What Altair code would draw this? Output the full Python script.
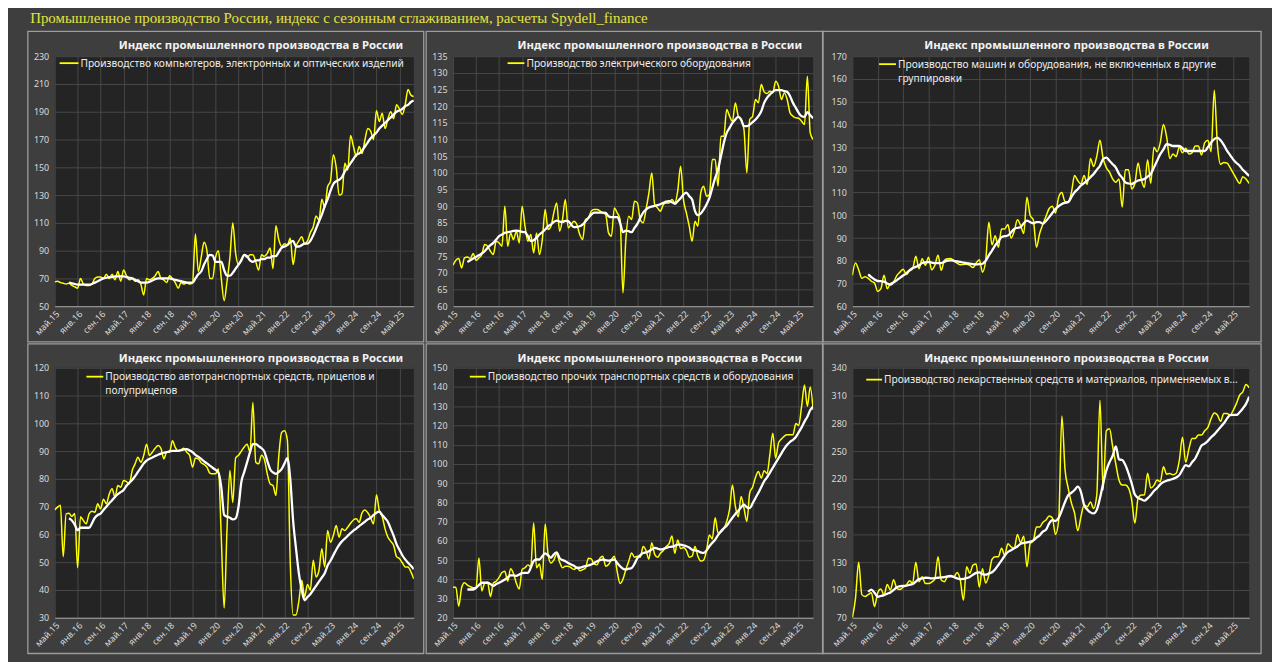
import altair as alt
import pandas as pd

MONTH_NAMES = ["янв", "фев", "мар", "апр", "май", "июн", "июл", "авг", "сен", "окт", "ноя", "дек"]
N = 126
MONTHS = [f"{MONTH_NAMES[(4 + k) % 12]}.{15 + (4 + k) // 12}" for k in range(N)]
TICKS = MONTHS[::8]

MAIN_TITLE = "Промышленное производство России, индекс с сезонным сглаживанием, расчеты Spydell_finance"
PANEL_TITLE = "Индекс промышленного производства в России"

LEGEND_1 = "Производство компьютеров, электронных и оптических изделий"
LEGEND_2 = "Производство электрического оборудования"
LEGEND_3 = "Производство машин и оборудования, не включенных в другие\nгруппировки"
LEGEND_4 = "Производство автотранспортных средств, прицепов и\nполуприцепов"
LEGEND_5 = "Производство прочих транспортных средств и оборудования"
LEGEND_6 = "Производство лекарственных средств и материалов, применяемых в..."

NA5 = [None] * 5

P1_RAW = [67.5, 68, 67, 66.5, 66, 66.5, 65, 64,
          63, 70, 66, 65, 65, 66, 70, 71,
          71, 70, 73, 70, 73, 69, 75, 68,
          76, 72, 69, 70, 68, 69, 66, 58,
          70, 69, 70, 72, 75, 70, 69, 67,
          72, 70, 67, 63, 67, 66, 67, 66,
          67, 102, 75, 85, 96, 90, 70, 70,
          85, 90, 70, 54, 68, 85, 110, 88,
          80, 84, 87, 85, 87, 87, 82, 76,
          87, 86, 88, 92, 77, 108, 98, 93,
          95, 94, 99, 80, 93, 97, 100, 95,
          97, 103, 107, 115, 112, 127, 121, 136,
          140, 159, 150, 130, 131, 153, 148, 173,
          165, 158, 165, 160, 170, 178, 176, 170,
          191, 183, 189, 178, 185, 190, 185, 195,
          192, 188, 195, 206, 202, 201]
P1_SMOOTH = NA5 + [67, 66.5, 66,
                   65.5, 65.5, 65.5, 65.5, 65.5, 66, 67, 68,
                   69, 70, 70.5, 71, 71, 71.5, 71.5, 71.5,
                   71.5, 71, 70.5, 70, 69, 68, 67, 67,
                   67, 67.5, 68.5, 69.5, 70, 70, 70, 70,
                   70, 69.5, 69, 68.5, 68, 67.5, 67, 67,
                   67, 70, 73, 75, 80, 84, 87, 86.5,
                   82, 82, 82, 76, 72, 72, 74, 77,
                   80, 83, 87, 86, 83, 82, 83, 83,
                   84, 84, 85, 85, 86, 86, 89, 92,
                   93, 94, 96, 97, 93, 93, 94, 95,
                   95, 97, 101, 106, 111, 116, 122, 127,
                   133, 138, 140, 141, 143, 147, 150, 153,
                   156, 159, 160, 162, 165, 168, 171, 173,
                   175, 178, 180, 182, 184, 186, 188, 190,
                   191, 192, 194, 195, 197, 198]

P2_RAW = [72.3, 73.8, 74.3, 71.5, 74.5, 74.8, 74.3, 75.8,
          73.8, 74.5, 75.5, 78.5, 78, 76.5, 75.5, 79.5,
          79, 78, 90, 78, 82, 80, 82.5, 79,
          90, 84, 79.5, 81.5, 76, 82, 75.5, 80,
          89, 83, 84, 88, 91, 82.5, 86, 92,
          83.5, 84.5, 85.5, 84.5, 81.5, 80, 86, 86.5,
          88.5, 89, 89, 88.6, 88, 87.5, 82, 81,
          89.5, 88, 86, 64, 80, 87, 86, 91.5,
          91, 86, 85, 89, 94, 100, 90.5, 89.5,
          88.5, 90.5, 91, 91, 92, 91, 94.5, 102,
          92, 88, 84, 79.5, 85.5, 84, 94, 96,
          93, 93.5, 104, 104, 96, 111, 111, 119,
          117, 115.5, 121, 117, 116, 113, 100, 116,
          117, 122, 121, 126.5, 124.3, 123.8, 124.5, 124,
          127.5, 126, 122, 124, 122, 118, 117, 116.5,
          116.4, 115.5, 114.5, 129, 112, 110]
P2_SMOOTH = NA5 + [73.3, 73.8, 74.3,
                   74.8, 75.3, 75.8, 76.5, 77.5, 78.3, 79, 80,
                   81, 81.5, 82, 82.2, 82.4, 82.6, 82.7, 82.5,
                   82.3, 82.2, 81, 79.5, 79.8, 80.5, 81.5, 82.2,
                   83, 84, 84.5, 85.3, 85.7, 85.4, 85.3, 85.6,
                   85.5, 84.5, 83.7, 83.8, 84, 84.5, 85.5, 86.5,
                   87.5, 88.1, 88.1, 88.1, 88.1, 88, 87, 86.7,
                   86.7, 86.7, 85, 82.2, 82.7, 82.5, 82.2, 83.5,
                   84.7, 86.5, 88.1, 89, 89.6, 89.9, 90.1, 90.3,
                   90.6, 91, 91.4, 91.5, 91.2, 90.7, 91.5, 92.4,
                   93.5, 94.1, 93, 92, 88.5, 87.3, 87.8, 89,
                   90.5, 92.5, 95.5, 98.5, 101, 105, 109, 112,
                   113.5, 115, 116, 116.8, 116, 114, 114, 114.5,
                   115.2, 116, 117, 118.5, 121, 122.5, 123.5, 124.3,
                   124.8, 124.8, 124.8, 124.5, 124.3, 123, 121, 119.5,
                   118, 117, 116.8, 118.2, 117.3, 116.4]

P3_RAW = [73.6, 79, 76, 72.3, 73, 72.3, 71, 70.2,
          66.5, 67.7, 73.6, 67.7, 70, 70.7, 73.5, 75,
          76.3, 74, 75.5, 76.5, 82, 76.5, 80.9, 78,
          81.5, 76, 78, 82.4, 75.8, 80.2, 80.9, 81,
          80, 79, 78.3, 78.4, 78.5, 78, 77, 79,
          80.5, 75, 80, 97, 87, 91, 86, 94,
          94, 96, 90, 93, 98, 95.5, 92, 108,
          100, 98, 86, 92, 96, 99.5, 103, 104,
          101, 108, 110, 106, 106, 110, 117.5, 115.3,
          113.8, 117.5, 113.5, 125, 121.5, 126, 133, 125,
          121, 119, 116, 114.5, 116, 103.6, 120, 120,
          111.6, 114, 123, 116, 112.3, 124.5, 114, 130,
          128, 132, 140, 134.5, 125, 127, 125.8, 130,
          127.5, 129.5, 127, 127.5, 130.5, 130.5, 126.5, 132,
          133, 128, 155, 131, 122.5, 123.2, 123, 121,
          118.5, 116, 114, 117, 116, 114]
P3_SMOOTH = NA5 + [74, 72.8, 71.8,
                   71.1, 71, 70.8, 70, 69.5, 70.5, 71.4, 72.5,
                   73.5, 74.5, 75.8, 76.8, 77.3, 78, 79, 79.3,
                   79.4, 79.2, 79, 79, 79, 79.5, 80.1, 80.2,
                   80, 79.7, 79.5, 79.2, 79, 78.7, 78.5, 78.4,
                   78.5, 78.7, 80, 82.4, 84.5, 86.8, 88.5, 90.4,
                   90.8, 91.1, 92.5, 94, 94.5, 94.8, 96.5, 97.7,
                   97, 96.5, 97, 97, 96.3, 97.5, 99.2, 101,
                   102.8, 104, 105, 105.5, 105.8, 108, 110.1, 111.5,
                   113.1, 114.2, 115.3, 116.8, 118.2, 120, 121.8, 124.7,
                   125.4, 124, 122.5, 121, 118.2, 116.5, 114.5, 114,
                   113.8, 114.5, 115.3, 115.6, 116, 117, 118.2, 121,
                   124, 126.9, 129, 131.3, 131, 130.5, 130.5, 130.5,
                   129.5, 128.3, 128.3, 128.3, 128.3, 128.3, 128.3, 128.3,
                   130, 132, 133.5, 134.2, 133, 131, 128.5, 126.5,
                   124.5, 123, 121.8, 120, 118.7, 117.3]

P4_RAW = [68.8, 69.8, 70.5, 52, 67.4, 67.6, 66.5, 67.5,
          48, 66.4, 65, 63.8, 67.4, 68.3, 68, 71,
          69.2, 72.7, 71, 74.5, 76.4, 73.4, 77.6, 77,
          79.4, 79, 78.2, 83, 85.4, 87.8, 86, 88.4,
          92.5, 88.4, 89.6, 91, 92, 91, 87.2, 89.6,
          89.6, 93.7, 91.3, 90, 90.5, 91, 89.6, 88.4,
          84.2, 87.5, 87.2, 85.8, 85.2, 84.2, 82.1, 81.8,
          81.8, 83.6, 59, 33.5, 62, 83, 71.5, 87.5,
          88.5, 90, 91.5, 92.5, 89.6, 107.5, 86, 85.4,
          88.5, 87, 81.8, 78.2, 77.6, 74, 88, 96.7,
          97.3, 94, 50, 31, 31, 36, 43.5, 37.5,
          42, 40, 50.7, 44.7, 47, 54.8, 48.3, 61.4,
          57.2, 59.6, 63.2, 59, 62, 61.4, 62.6, 64,
          65.2, 65.6, 64.4, 67.8, 68.8, 67.8, 66, 63.8,
          74.3, 68.5, 66.5, 62, 59, 57.5, 56, 52,
          51.3, 49.8, 48.3, 48.3, 46.5, 44]
P4_SMOOTH = NA5 + [65.8, 65, 63.5,
                   61.5, 62.4, 62.4, 62.4, 62.4, 64, 66, 67,
                   67.5, 68.8, 70, 71.2, 72.3, 73.5, 74.5, 75.2,
                   76, 77.5, 78.6, 79.6, 81, 82.5, 84, 85.5,
                   86.6, 87.2, 87.7, 88.2, 88.7, 89.1, 89.4, 89.6,
                   89.9, 90.1, 90.1, 90.1, 90.3, 90.6, 90.7, 90.2,
                   89.6, 88.6, 88, 87.2, 86.3, 85.6, 84.8, 84,
                   83.2, 82.3, 77, 67, 66.4, 66, 65.4, 65.8,
                   70, 79, 82.5, 86, 89.6, 92.5, 92.5, 91.8,
                   91, 89.8, 86.5, 83.5, 82.3, 81.8, 82.5, 83.5,
                   85.5, 87.5, 80, 65, 55, 46, 40, 36.3,
                   37.5, 38.5, 40, 41.5, 43, 44.5, 46, 48.8,
                   50.5, 52.5, 54.5, 56.2, 57.5, 58.5, 59.5, 60.5,
                   61.4, 62.1, 63, 63.8, 64.6, 65.4, 66, 67,
                   67.8, 68.2, 67, 65.8, 64.5, 62, 59.5, 56.5,
                   54.5, 52.5, 51, 49.8, 48.7, 47.5]

P5_RAW = [35.9, 35.9, 26, 35.6, 38.2, 37, 36.2, 35.6,
          35.6, 51.1, 34, 38, 38.5, 31, 38, 39,
          41, 43.5, 44.2, 39, 45.5, 43, 38, 35,
          45.1, 46, 47.5, 46.5, 69.3, 46, 48, 40,
          68.8, 53, 48.5, 50, 53.2, 49, 46, 46.8,
          46.8, 46, 45.1, 46, 44.5, 45, 45.9, 51,
          50.6, 48, 47.5, 51, 52, 46.8, 47.7, 50.3,
          52, 44, 37.8, 40, 45.1, 49.4, 53.7, 51.5,
          52, 51.5, 57, 55, 50.5, 59, 53, 51.5,
          53.5, 55, 57, 58.5, 62.5, 53.5, 60.5, 56,
          56.5, 55, 51.5, 52, 57, 52, 49.5, 50,
          55, 63, 61, 72, 64, 64.5, 66.5, 70,
          76.5, 89, 78, 72.5, 83, 77, 70, 85,
          88, 93, 96, 92.6, 96.5, 95, 105, 116,
          103, 111, 113, 114.5, 115.1, 115.1, 115.1, 121,
          120, 130, 141, 130, 140, 128]
P5_SMOOTH = NA5 + [34.7, 34.7, 34.7,
                   35.5, 37, 38.2, 38.2, 38.2, 37.5, 36.5, 37.5,
                   38.2, 39, 39.9, 41, 42, 42, 41.8, 42.5,
                   43.2, 43.3, 43.3, 46, 49.5, 50.3, 50.3, 52,
                   53.5, 52.5, 51.2, 53, 54, 51, 50, 49.4,
                   48.5, 47.7, 47, 46, 46, 46.5, 46.8, 47.2,
                   47.7, 48.5, 49.4, 49.9, 50.3, 50, 49.7, 50,
                   50.3, 48.5, 46.8, 45.5, 45.1, 45.5, 45.9, 48,
                   51, 52.5, 53.7, 54, 54.6, 55.5, 56.3, 56,
                   55.5, 55.8, 56.3, 56.8, 57, 57.4, 58, 58,
                   57.6, 57.2, 56.5, 55.4, 55, 54.7, 54, 53.7,
                   55, 57.2, 59, 60.6, 63, 65, 66.5, 67.8,
                   70, 72, 74, 75.5, 77.5, 78.8, 77.5, 77,
                   79.5, 82.3, 85, 88, 91, 93, 95.5, 98,
                   100.5, 103, 105.5, 108, 110, 111.5, 112.5, 114,
                   116.5, 119, 122, 124.5, 128, 129.8]

P6_RAW = [70, 91, 130, 95, 93, 95, 97, 82,
          97, 101, 94.5, 106, 100, 111, 102, 100.5,
          103, 105, 110, 107.5, 130, 109, 114.3, 107,
          107, 108.5, 112, 135.9, 110.7, 109, 114.3, 114.3,
          114.3, 119, 111, 89, 125, 118, 126.9, 128,
          103, 123, 107.5, 116, 133, 135.9, 136, 145,
          137.7, 150, 146.7, 145, 160, 151, 158, 125,
          150, 153, 168, 168, 173, 175.5, 180, 178,
          160, 175, 288, 230, 210, 194, 183, 164,
          179, 191.7, 190, 195, 188, 202.5, 305, 208,
          272, 274, 255, 236, 218.7, 213.3, 213.3, 210,
          197, 172, 198.9, 202.5, 202.5, 226, 210, 213,
          218.7, 217, 233, 225, 225.9, 224.5, 226, 240,
          265, 238, 252, 263.7, 263.7, 267.3, 267.3, 272,
          275.5, 285, 291, 288.9, 282, 290.7, 290.7, 289,
          294.3, 301.5, 310.5, 314, 322, 318.4]
P6_SMOOTH = NA5 + [98, 100.5, 97,
                   92.7, 93.5, 94.5, 96, 97.4, 100, 103, 104,
                   104.4, 104.7, 105.5, 106.5, 109, 111.8, 112.5, 113.2,
                   113, 112.6, 112.8, 113.2, 113.5, 114, 114.6, 115.2,
                   114, 112.5, 111.8, 112, 112.8, 114, 116.5, 118.5,
                   119, 117, 116.5, 117.8, 119.2, 122.5, 127, 132,
                   137, 141, 143, 145, 147, 150, 150.8, 151.3,
                   152.2, 153.6, 156.5, 159, 163, 165, 172, 175.5,
                   174.5, 178, 186, 195, 202.5, 205, 208, 211.5,
                   206, 192, 187, 183.8, 182.7, 186.5, 199, 215,
                   229, 238, 245, 255, 241, 240.3, 235, 226,
                   215, 203, 199.5, 198, 196.4, 199, 202.5, 207,
                   210, 214, 216.5, 218, 219, 220, 221.5, 224,
                   230, 234.9, 233.5, 238, 242, 249, 256, 258,
                   261, 265, 268, 272, 276, 280, 285, 288.9,
                   289, 289, 292, 296, 301, 308.7]

FONT = "Noto Sans"
YELLOW = "#ffff00"
BORDER = "#9c9c9c"

W = [362, 363, 400]
H = 252


def panel(raw, smooth, ylo, yhi, ystep, legend, leg, col, row):
    w = W[col]
    df = pd.DataFrame({"month": MONTHS, "raw": raw, "smooth": smooth})
    one = pd.DataFrame({"t": [PANEL_TITLE], "l": [legend]})
    xenc = alt.X("month:O", sort=MONTHS, title=None,
                 scale=alt.Scale(type="point", padding=0),
                 axis=alt.Axis(values=TICKS, labelAngle=-45, grid=True, ticks=False,
                               labelOverlap=False, domain=True))
    yscale = alt.Scale(domain=[ylo, yhi], nice=False, zero=False)
    yaxis = alt.Axis(values=list(range(ylo, yhi + 1, ystep)), ticks=False, domain=False, grid=True)

    bl = -30 if col == 2 else -27
    br = w + (12 if col == 2 else 10)
    bt = -25 if row == 0 else -24
    border = alt.Chart(one).mark_rect(fill="#000000", fillOpacity=0, stroke=BORDER, strokeWidth=1.3).encode(
        x=alt.value(bl), x2=alt.value(br), y=alt.value(bt), y2=alt.value(H + 36))

    yl = alt.Chart(df).mark_line(color=YELLOW, strokeWidth=1.5, interpolate="monotone", clip=True).encode(
        x=xenc, y=alt.Y("raw:Q", title=None, scale=yscale, axis=yaxis))
    wl = alt.Chart(df).mark_line(color="#ffffff", strokeWidth=2.3, interpolate="monotone", clip=True).encode(
        x=xenc, y=alt.Y("smooth:Q", title=None, scale=yscale, axis=yaxis))

    tdx = 16 if col == 2 else 27
    ttl = alt.Chart(one).mark_text(font=FONT, fontSize=11.5, fontWeight="bold", color="#f2f2f2",
                                   align="center", baseline="middle").encode(
        x=alt.value(w / 2 + tdx), y=alt.value(-10 if row == 0 else -9), text="t:N")

    lx1, lx2, ly = leg
    sw = alt.Chart(one).mark_rule(color=YELLOW, strokeWidth=1.8).encode(
        x=alt.value(lx1), x2=alt.value(lx2), y=alt.value(ly))
    lt = alt.Chart(one).mark_text(font=FONT, fontSize=10.3, color="#ececec", align="left",
                                  baseline="alphabetic", lineBreak="\n", lineHeight=14).encode(
        x=alt.value(lx2 + 2), y=alt.value(ly + 3.6), text="l:N")

    return alt.layer(border, yl, wl, ttl, sw, lt).properties(width=w, height=H)


charts = [
    panel(P1_RAW, P1_SMOOTH, 50, 230, 20, LEGEND_1, (5, 24, 7), 0, 0),
    panel(P2_RAW, P2_SMOOTH, 60, 135, 5, LEGEND_2, (55, 72, 7), 1, 0),
    panel(P3_RAW, P3_SMOOTH, 60, 170, 10, LEGEND_3, (27, 44, 8), 2, 0),
    panel(P4_RAW, P4_SMOOTH, 30, 120, 10, LEGEND_4, (32, 49, 9), 0, 1),
    panel(P5_RAW, P5_SMOOTH, 20, 150, 10, LEGEND_5, (17, 33, 9), 1, 1),
    panel(P6_RAW, P6_SMOOTH, 70, 340, 30, LEGEND_6, (14, 30, 12), 2, 1),
]

chart = alt.concat(*charts, columns=3, spacing={"row": 62, "column": 39.5}, bounds="flush").properties(
    title=alt.TitleParams(text=MAIN_TITLE, anchor="start", frame="bounds", font="Liberation Serif",
                          fontSize=15, fontWeight="normal", color="#e4e43c", dx=3, offset=5),
    background="#3e3e3e",
    padding={"left": 19, "top": 0, "right": 10, "bottom": 5},
    autosize=alt.AutoSizeParams(type="pad"),
).configure_view(fill="#242424", strokeWidth=0).configure_axis(
    labelFont=FONT, labelFontSize=9, labelColor="#d9d9d9", gridColor="#4b4b4b", gridWidth=0.9,
).configure_axisX(domainColor="#a6a6a6", domainWidth=1, labelPadding=3).configure_axisY(labelPadding=6)

chart.save("out.html", embed_options={"renderer": "svg", "actions": False})
